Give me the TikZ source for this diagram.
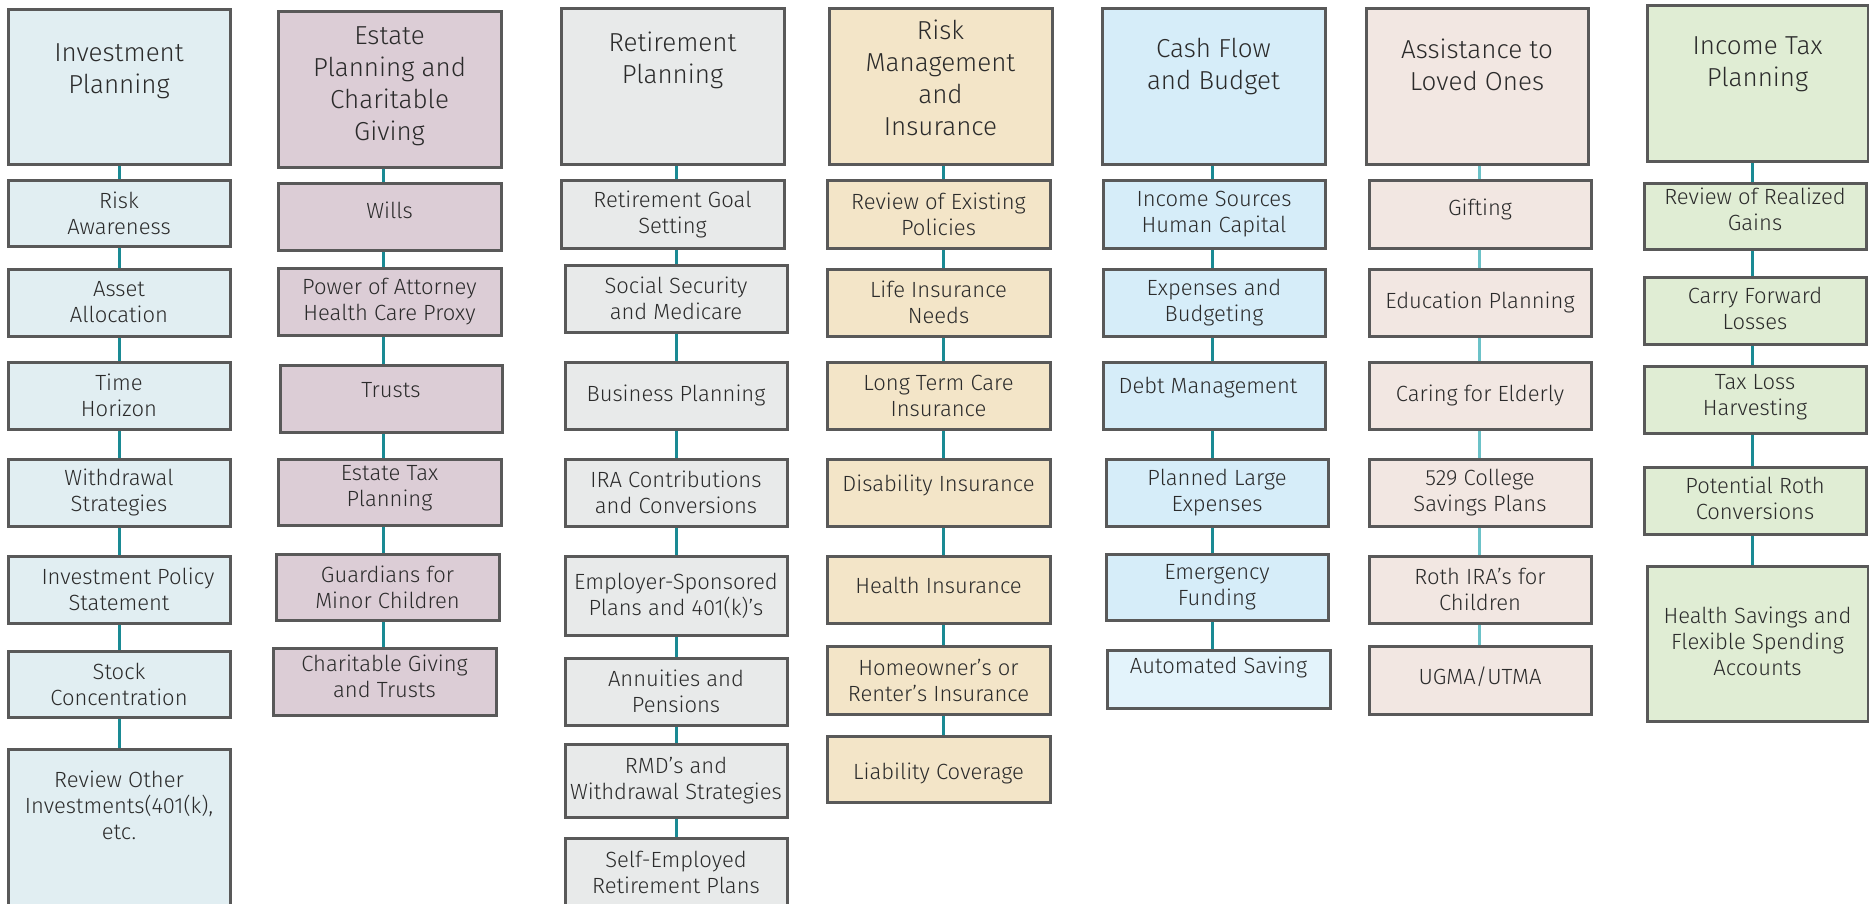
\documentclass[tikz,border=0pt]{standalone}
\usepackage{fontspec}
\setmainfont{Fira Sans}[UprightFont={* Light}]
\usetikzlibrary{backgrounds}
\definecolor{cInv}{HTML}{E1EEF2}
\definecolor{cEst}{HTML}{DCCDD6}
\definecolor{cRet}{HTML}{E8EAEA}
\definecolor{cRisk}{HTML}{F3E5C8}
\definecolor{cCash}{HTML}{D6EDF9}
\definecolor{cCashL}{HTML}{E3F3FB}
\definecolor{cAss}{HTML}{F2E7E2}
\definecolor{cTax}{HTML}{E0EDD4}
\definecolor{cBorder}{HTML}{595959}
\definecolor{cConn}{HTML}{1A8A94}
\definecolor{cConnL}{HTML}{6CC2C8}
\definecolor{cText}{HTML}{2B2B2B}
\tikzset{
  box/.style={draw=cBorder, line width=3pt, inner sep=0pt, outer sep=0pt, text=cText},
  itemfont/.style={font=\fontsize{22}{26}\selectfont},
  headfont/.style={font=\fontsize{26}{32}\selectfont},
  conn/.style={draw=cConn, line width=3pt},
  connl/.style={draw=cConnL, line width=3pt}
}
% name, fill, x1, y1, x2, y2, text, up
\newcommand\mybox[8]{%
  \node[box, itemfont, fill=#2, anchor=north west] (#1) at (#3,#4)
  {\parbox[c][\dimexpr #6pt-#4pt\relax][c]{\dimexpr #5pt-#3pt\relax}{\centering #7\par\vspace{#8pt}\vspace{#8pt}}};}
% name, fill, x1, y1, x2, y2, text, offset, fontstyle
\newcommand\mytbox[9]{%
  \node[box, #9, fill=#2, anchor=north west] (#1) at (#3,#4)
  {\parbox[c][\dimexpr #6pt-#4pt\relax][t]{\dimexpr #5pt-#3pt\relax}{\centering\vspace*{#8pt}#7\par}};}
\begin{document}
\begin{tikzpicture}[x=1pt,y=-1pt]
\useasboundingbox (0,0) rectangle (1869,903);
% ---------- Column 1: Investment Planning
\mytbox{h1}{cInv}{8}{9}{230}{164}{Investment\\Planning}{35}{headfont}
\mybox{a1}{cInv}{8}{180}{230}{246}{Risk\\Awareness}{0}
\mybox{a2}{cInv}{8}{269}{230}{336}{Asset\\Allocation}{0}
\mybox{a3}{cInv}{8}{362}{230}{429}{Time\\Horizon}{0}
\mybox{a4}{cInv}{8}{459}{230}{526}{Withdrawal\\Strategies}{0}
\mybox{a5}{cInv}{8}{556}{230}{623}{\hspace*{18pt}Investment Policy\\Statement}{0}
\mybox{a6}{cInv}{8}{651}{230}{717}{Stock\\Concentration}{0}
\mytbox{a7}{cInv}{8}{749}{230}{915}{Review Other\\Investments(401(k),\\etc.}{22}{itemfont}
\coordinate (x1) at (119,0);
% ---------- Column 2: Estate Planning
\mytbox{h2}{cEst}{278}{11}{501}{167}{Estate\\Planning and\\Charitable\\Giving}{16}{headfont}
\mybox{b1}{cEst}{278}{183}{501}{250}{Wills}{6}
\mybox{b2}{cEst}{278}{268}{501}{335}{Power of Attorney\\Health Care Proxy}{0}
\mybox{b3}{cEst}{280}{365}{502}{432}{Trusts}{8}
\mybox{b4}{cEst}{278}{459}{501}{525}{Estate Tax\\Planning}{4}
\mybox{b5}{cEst}{276}{554}{499}{620}{Guardians for\\Minor Children}{0}
\mybox{b6}{cEst}{273}{648}{496}{715}{Charitable Giving\\and Trusts}{5}
\coordinate (x2) at (383,0);
% ---------- Column 3: Retirement Planning
\mytbox{h3}{cRet}{561}{8}{784}{164}{Retirement\\Planning}{24}{headfont}
\mybox{r1}{cRet}{561}{180}{784}{248}{Retirement Goal\\Setting}{0}
\mybox{r2}{cRet}{565}{265}{787}{332}{Social Security\\and Medicare}{0}
\mybox{r3}{cRet}{565}{362}{787}{429}{Business Planning}{0}
\mybox{r4}{cRet}{565}{459}{787}{526}{IRA Contributions\\and Conversions}{0}
\mybox{r5}{cRet}{565}{556}{787}{635}{Employer-Sponsored\\Plans and 401(k)’s}{0}
\mybox{r6}{cRet}{565}{658}{787}{725}{Annuities and\\Pensions}{0}
\mybox{r7}{cRet}{565}{744}{787}{817}{RMD’s and\\Withdrawal Strategies}{0}
\mytbox{r8}{cRet}{565}{838}{787}{915}{Self-Employed\\Retirement Plans}{13}{itemfont}
\coordinate (x3) at (676,0);
% ---------- Column 4: Risk Management
\mytbox{h4}{cRisk}{829}{8}{1052}{164}{Risk\\Management\\and\\Insurance}{12}{headfont}
\mybox{i1}{cRisk}{827}{180}{1050}{248}{Review of Existing\\Policies}{0}
\mybox{i2}{cRisk}{827}{269}{1050}{336}{Life Insurance\\Needs}{0}
\mybox{i3}{cRisk}{827}{362}{1050}{429}{Long Term Care\\Insurance}{0}
\mybox{i4}{cRisk}{827}{459}{1050}{526}{Disability Insurance}{7}
\mybox{i5}{cRisk}{827}{556}{1050}{623}{Health Insurance}{4}
\mybox{i6}{cRisk}{827}{646}{1050}{714}{Homeowner’s or\\Renter’s Insurance}{0}
\mybox{i7}{cRisk}{827}{736}{1050}{802}{Liability Coverage}{-4}
\coordinate (x4) at (943,0);
% ---------- Column 5: Cash Flow
\mytbox{h5}{cCash}{1102}{8}{1325}{164}{Cash Flow\\and Budget}{30}{headfont}
\mybox{f1}{cCash}{1103}{180}{1325}{248}{Income Sources\\Human Capital}{0}
\mybox{f2}{cCash}{1103}{269}{1325}{336}{Expenses and\\Budgeting}{0}
\mybox{f3}{cCash}{1103}{362}{1325}{429}{Debt Management\hspace*{12pt}}{8}
\mybox{f4}{cCash}{1106}{459}{1328}{526}{Planned Large\\Expenses}{0}
\mybox{f5}{cCash}{1106}{554}{1328}{620}{Emergency\\Funding}{0}
\mybox{f6}{cCashL}{1107}{650}{1330}{708}{Automated Saving}{12}
\coordinate (x5) at (1212,0);
% ---------- Column 6: Assistance to Loved Ones
\mytbox{h6}{cAss}{1366}{8}{1588}{164}{Assistance to\\Loved Ones}{31}{headfont}
\mybox{g1}{cAss}{1369}{180}{1591}{248}{Gifting}{5}
\mybox{g2}{cAss}{1369}{269}{1591}{336}{Education Planning}{0}
\mybox{g3}{cAss}{1369}{362}{1591}{429}{Caring for Elderly}{0}
\mybox{g4}{cAss}{1369}{459}{1591}{526}{529 College\\Savings Plans}{0}
\mybox{g5}{cAss}{1369}{556}{1591}{623}{Roth IRA’s for\\Children}{0}
\mybox{g6}{cAss}{1369}{646}{1591}{714}{UGMA/UTMA}{3}
\coordinate (x6) at (1479,0);
% ---------- Column 7: Income Tax Planning
\mytbox{h7}{cTax}{1647}{5}{1868}{161}{Income Tax\\Planning}{32}{headfont}
\mybox{t1}{cTax}{1644}{183}{1866}{249}{Review of Realized\\Gains}{7}
\mybox{t2}{cTax}{1644}{277}{1866}{344}{Carry Forward\\Losses}{2}
\mybox{t3}{cTax}{1644}{366}{1866}{433}{Tax Loss\\Harvesting}{2}
\mybox{t4}{cTax}{1644}{467}{1866}{534}{Potential Roth\\Conversions}{2}
\mybox{t5}{cTax}{1647}{566}{1868}{721}{Health Savings and\\Flexible Spending\\Accounts}{2}
\coordinate (x7) at (1752,0);
% ---------- Connectors
\begin{scope}[on background layer]
\foreach \u/\v in {h1/a1,a1/a2,a2/a3,a3/a4,a4/a5,a5/a6,a6/a7}
  \draw[conn] (\u.south -| x1) -- (\v.north -| x1);
\foreach \u/\v in {h2/b1,b1/b2,b2/b3,b3/b4,b4/b5,b5/b6}
  \draw[conn] (\u.south -| x2) -- (\v.north -| x2);
\foreach \u/\v in {h3/r1,r1/r2,r2/r3,r3/r4,r4/r5,r5/r6,r6/r7,r7/r8}
  \draw[conn] (\u.south -| x3) -- (\v.north -| x3);
\foreach \u/\v in {h4/i1,i1/i2,i2/i3,i3/i4,i4/i5,i5/i6,i6/i7}
  \draw[conn] (\u.south -| x4) -- (\v.north -| x4);
\foreach \u/\v in {h5/f1,f1/f2,f2/f3,f3/f4,f4/f5,f5/f6}
  \draw[conn] (\u.south -| x5) -- (\v.north -| x5);
\foreach \u/\v in {h6/g1,g1/g2,g2/g3,g3/g4,g4/g5,g5/g6}
  \draw[connl] (\u.south -| x6) -- (\v.north -| x6);
\foreach \u/\v in {h7/t1,t1/t2,t2/t3,t3/t4,t4/t5}
  \draw[conn] (\u.south -| x7) -- (\v.north -| x7);
\end{scope}
\end{tikzpicture}
\end{document}
